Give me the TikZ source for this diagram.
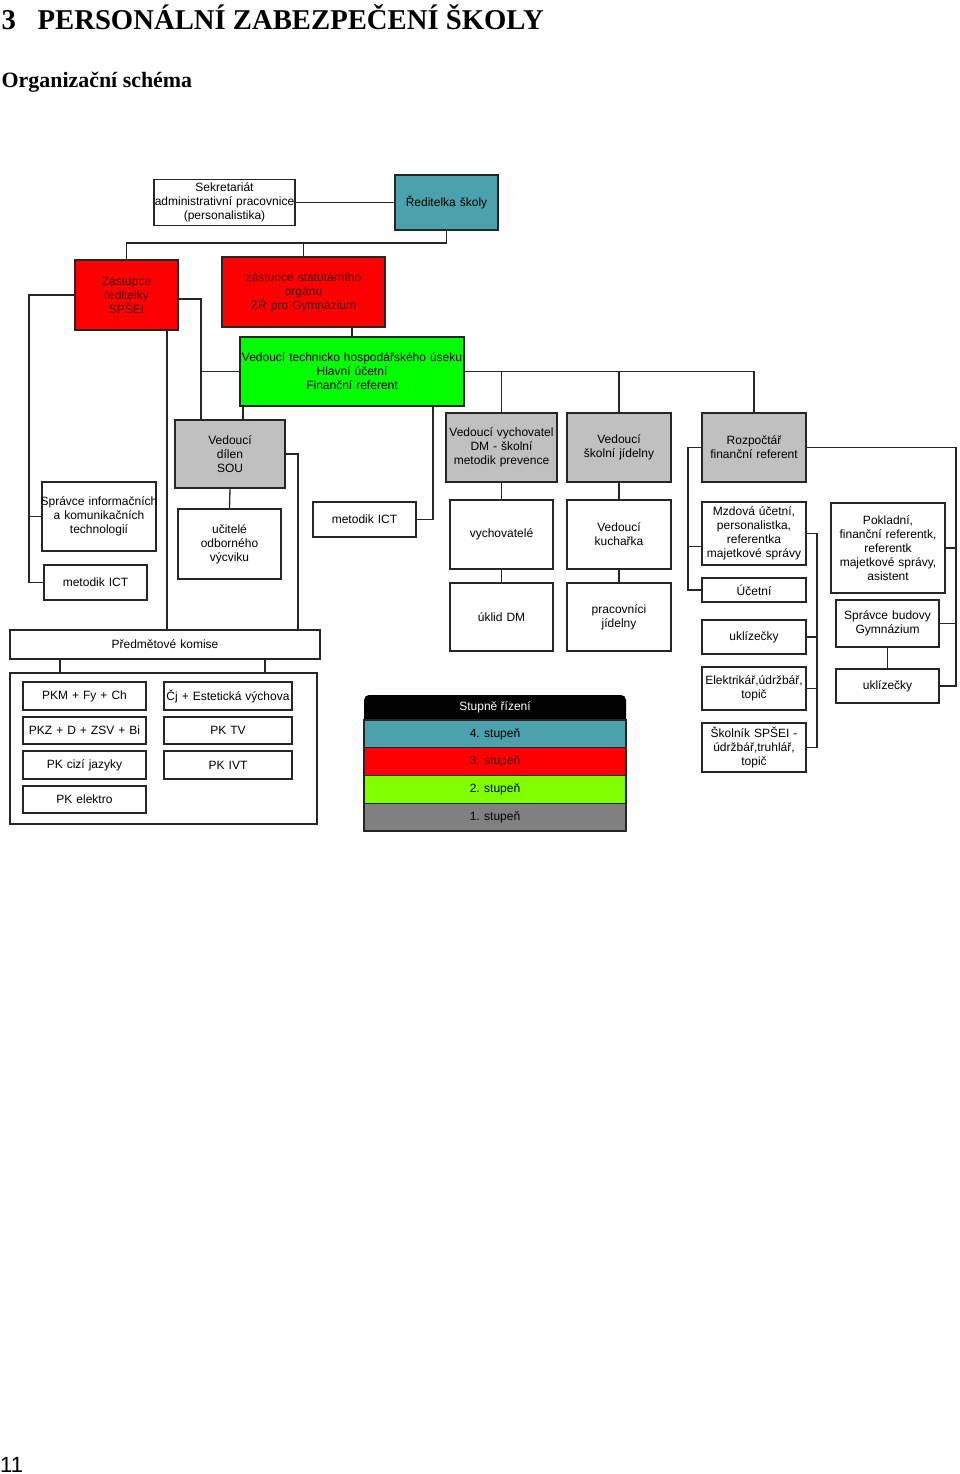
\documentclass[tikz,border=0pt]{standalone}
\usepackage{fontspec}
\setmainfont{Liberation Serif}
\setsansfont{Liberation Sans}
\usepackage{xcolor}
\usepackage{tikz}

\definecolor{tealbox}{RGB}{76,162,172}
\definecolor{redbox}{RGB}{255,0,0}
\definecolor{redtext}{RGB}{80,0,0}
\definecolor{greenbox}{RGB}{0,255,0}
\definecolor{limebox}{RGB}{128,255,0}
\definecolor{graybox}{RGB}{192,192,192}
\definecolor{darkbox}{RGB}{128,128,128}
\newcommand{\boxfont}{\sffamily\fontsize{12}{14}\selectfont\hyphenpenalty=10000\relax}

\begin{document}
\begin{tikzpicture}[x=1pt, y=-1pt,
  unit/.style={draw=black!85, line width=1.3pt, inner sep=0pt, align=center, font=\boxfont},
  legrow/.style={draw=black!85, line width=1.3pt, inner sep=0pt, minimum width=262pt, minimum height=27.75pt, font=\boxfont},
  wire/.style={black!85, line width=1.3pt},
]
\useasboundingbox (0,0) rectangle (960,1474);
% Headings
\node[anchor=base west, inner sep=0pt, font=\bfseries\fontsize{28.7}{34}\selectfont] (title) at (1.5,30) {3\hspace{21.6pt}PERSONÁLNÍ ZABEZPEČENÍ ŠKOLY};
\node[anchor=base west, inner sep=0pt, font=\bfseries\fontsize{21.9}{26}\selectfont] (sub) at (1.5,88) {Organizační schéma};
\node[anchor=base west, inner sep=0pt, font=\sffamily\fontsize{22}{26}\selectfont] (pageno) at (0,1472) {11};
% Management
\node[unit, text width=141pt, minimum height=46pt] (sekr) at (224.5,202.5) {Sekretariát\\administrativní pracovnice\\(personalistika)};
\node[unit, fill=tealbox, text width=103pt, minimum height=55pt] (red) at (446.5,202.5) {Ředitelka školy};
\node[unit, fill=redbox, text=redtext, text width=103pt, minimum height=70pt] (zast) at (126.5,295) {Zástupce\\ředitelky\\SPŠEI};
\node[unit, fill=redbox, text=redtext, text width=163pt, minimum height=70pt] (stat) at (303.5,292) {zástupce statutárního\\orgánu\\ZŘ pro Gymnázium};
\node[unit, fill=greenbox, text width=224pt, minimum height=69pt] (thu) at (352,371.5) {Vedoucí technicko hospodářského úseku\\Hlavní účetní\\Finanční referent};
% Grey heads
\node[unit, fill=graybox, text width=110pt, minimum height=68pt] (dilen) at (230,454) {Vedoucí\\dílen\\SOU};
\node[unit, fill=graybox, text width=111pt, minimum height=69pt] (vych) at (501.5,447.5) {Vedoucí vychovatel\\DM - školní\\metodik prevence};
\node[unit, fill=graybox, text width=104pt, minimum height=69pt] (jid) at (619,447.5) {Vedoucí\\školní jídelny};
\node[unit, fill=graybox, text width=104pt, minimum height=69pt] (rozp) at (754,447.5) {Rozpočtář\\finanční referent};
% Left branch
\node[unit, text width=114pt, minimum height=69pt] (sprIct) at (99,516.5) {\makebox[0pt]{Správce informačních}\\a komunikačních\\technologií};
\node[unit, text width=103pt, minimum height=35pt] (ictL) at (95.5,582.5) {metodik ICT};
\node[unit, text width=103pt, minimum height=70pt] (ucit) at (229.5,544) {učitelé\\odborného\\výcviku};
\node[unit, text width=103pt, minimum height=35pt] (ictM) at (364.5,519.5) {metodik ICT};
\node[unit, text width=310pt, minimum height=29pt] (kom) at (165,644.5) {Předmětové komise};
% Subject committees
\node[unit, text width=307pt, minimum height=151pt] (pkbox) at (163.5,748.5) {};
\node[unit, text width=123pt, minimum height=28pt] (pkm) at (84.5,696) {PKM + Fy + Ch};
\node[unit, text width=123pt, minimum height=27pt] (pkz) at (84.5,730.5) {PKZ + D + ZSV + Bi};
\node[unit, text width=123pt, minimum height=28pt] (pkcizi) at (84.5,765) {PK cizí jazyky};
\node[unit, text width=123pt, minimum height=27pt] (pkel) at (84.5,799.5) {PK elektro};
\node[unit, text width=128pt, minimum height=28pt] (pkcj) at (228,696) {Čj + Estetická výchova};
\node[unit, text width=128pt, minimum height=27pt] (pktv) at (228,730.5) {PK TV};
\node[unit, text width=128pt, minimum height=28pt] (pkivt) at (228,765) {PK IVT};
% Boarding house and canteen
\node[unit, text width=103pt, minimum height=69pt] (vychs) at (501.5,534.5) {vychovatelé};
\node[unit, text width=103pt, minimum height=68pt] (uklid) at (501.5,617) {úklid DM};
\node[unit, text width=104pt, minimum height=69pt] (kuch) at (619,534.5) {Vedoucí\\kuchařka};
\node[unit, text width=104pt, minimum height=68pt] (prac) at (619,617) {pracovníci\\jídelny};
% Economic staff
\node[unit, text width=104pt, minimum height=63pt] (mzd) at (754,533.5) {Mzdová účetní,\\personalistka,\\referentka\\majetkové správy};
\node[unit, text width=104pt, minimum height=24pt] (ucet) at (754,590) {Účetní};
\node[unit, text width=104pt, minimum height=34pt] (ukzL) at (754,637) {uklízečky};
\node[unit, text width=104pt, minimum height=43pt] (elek) at (754,688.5) {Elektrikář,údržbář,\\topič};
\node[unit, text width=104pt, minimum height=49pt] (skol) at (754,747.5) {Školník SPŠEI -\\údržbář,truhlář,\\topič};
\node[unit, text width=114pt, minimum height=90pt] (pokl) at (888,548) {Pokladní,\\finanční referentk,\\referentk\\majetkové správy,\\asistent};
\node[unit, text width=103pt, minimum height=47pt] (sprB) at (887.5,623.5) {Správce budovy\\Gymnázium};
\node[unit, text width=103pt, minimum height=34pt] (ukzR) at (887.5,686) {uklízečky};
% Legend
\fill[black, rounded corners=5pt] (364,720) -- (364,695) -- (626,695) [sharp corners] -- (626,720) -- cycle;
\node[legrow, draw=none, text=white, minimum height=25pt] (lhead) at (495,707.5) {Stupně řízení};
\node[legrow, fill=tealbox] (l4) at (495,733.9) {4. stupeň};
\node[legrow, fill=redbox, text=redtext] (l3) at (495,761.6) {3. stupeň};
\node[legrow, fill=limebox] (l2) at (495,789.4) {2. stupeň};
\node[legrow, fill=darkbox] (l1) at (495,817.1) {1. stupeň};
% Spine positions
\coordinate (topbus) at (446.5,243);
\coordinate (lspine) at (29,0);
\coordinate (zdrop) at (167,0);
\coordinate (rspine) at (201,0);
\coordinate (tdrop) at (243,0);
\coordinate (kdrop) at (298,0);
\coordinate (ictdrop) at (433,0);
\coordinate (rlspine) at (688,0);
\coordinate (mspine) at (817,0);
\coordinate (rrspine) at (956,0);
\coordinate (kc1) at (60,0);
\coordinate (kc2) at (265,0);
% Top links
\draw[wire] (sekr.east) -- (red.west);
\draw[wire] (red.south) -- (topbus) -| (zast.north);
\draw[wire] (topbus) -| (stat.north);
\draw[wire] (stat.south -| thu.north) -- (thu.north);
% Deputy links
\draw[wire] (zast.west) -| (lspine |- ictL.west) -- (ictL.west);
\draw[wire] (sprIct.west) -- (sprIct.west -| lspine);
\draw[wire] (zast.south -| zdrop) -- (kom.north -| zdrop);
\draw[wire] ([yshift=-4pt]zast.east) -| (rspine |- dilen.north);
\draw[wire] (thu.west) -- (thu.west -| rspine);
\draw[wire] (thu.south -| tdrop) -- (dilen.north -| tdrop);
\draw[wire] (dilen.south) -- (ucit.north);
\draw[wire] (dilen.east) -| (kom.north -| kdrop);
\draw[wire] (kom.south -| kc1) -- (pkbox.north -| kc1);
\draw[wire] (kom.south -| kc2) -- (pkbox.north -| kc2);
% Economic links
\draw[wire] (thu.south -| ictdrop) |- (ictM.east);
\draw[wire] (thu.east) -| (rozp.north);
\draw[wire] (vych.north) |- (thu.east);
\draw[wire] (jid.north) |- (thu.east);
\draw[wire] (vych.south) -- (vychs.north) (vychs.south) -- (uklid.north);
\draw[wire] (jid.south) -- (kuch.north) (kuch.south) -- (prac.north);
\draw[wire] (rozp.west) -| (rlspine |- ucet.west) -- (ucet.west);
\draw[wire] ([yshift=-13pt]mzd.west) -- ++(-14,0);
\draw[wire] (mzd.east) -| (mspine |- skol.east) -- (skol.east);
\draw[wire] (ukzL.east) -- (ukzL.east -| mspine);
\draw[wire] (elek.east) -- (elek.east -| mspine);
\draw[wire] (rozp.east) -| (rrspine |- ukzR.east) -- (ukzR.east);
\draw[wire] (pokl.east) -- (pokl.east -| rrspine);
\draw[wire] (sprB.east) -- (sprB.east -| rrspine);
\draw[wire] (sprB.south) -- (ukzR.north);
\end{tikzpicture}
\end{document}
